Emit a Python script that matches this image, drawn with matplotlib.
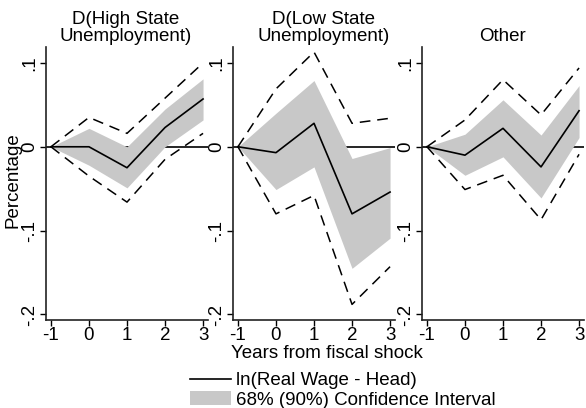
import matplotlib
matplotlib.use("Agg")
import matplotlib.pyplot as plt
from matplotlib.patches import Patch
from matplotlib.lines import Line2D

plt.rcParams['font.family'] = ['Liberation Sans', 'DejaVu Sans']

years = [-1, 0, 1, 2, 3]

titles = ["D(High State\nUnemployment)", "D(Low State\nUnemployment)", "Other"]

# point estimates
est_high = [0, 0.000, -0.025, 0.023, 0.057]
est_low = [0, -0.007, 0.028, -0.080, -0.054]
est_other = [0, -0.010, 0.022, -0.024, 0.043]

# 68% bands (shaded)
lo68_high = [0, -0.022, -0.049, 0.000, 0.032]
hi68_high = [0, 0.022, 0.000, 0.045, 0.081]
lo68_low = [0, -0.051, -0.024, -0.145, -0.109]
hi68_low = [0, 0.040, 0.079, -0.014, -0.001]
lo68_other = [0, -0.034, -0.012, -0.061, 0.011]
hi68_other = [0, 0.015, 0.056, 0.014, 0.073]

# 90% bands (dashed)
lo90_high = [0, -0.035, -0.066, -0.015, 0.016]
hi90_high = [0, 0.035, 0.016, 0.058, 0.100]
lo90_low = [0, -0.080, -0.058, -0.188, -0.143]
hi90_low = [0, 0.069, 0.113, 0.028, 0.034]
lo90_other = [0, -0.051, -0.034, -0.087, -0.009]
hi90_other = [0, 0.032, 0.080, 0.038, 0.094]

yticks = [-0.2, -0.1, 0, 0.1]
ytick_labels = ["-.2", "-.1", "0", ".1"]

panels = [
    (est_high, lo68_high, hi68_high, lo90_high, hi90_high),
    (est_low, lo68_low, hi68_low, lo90_low, hi90_low),
    (est_other, lo68_other, hi68_other, lo90_other, hi90_other),
]

W, H = 586, 408
fig = plt.figure(figsize=(W / 100, H / 100), dpi=100)

lefts = [46, 233, 422]
title_x = [0.49, 0.56, 0.5]
fs = 13.5
shade = "#c8c8c8"

for i, (est, lo68, hi68, lo90, hi90) in enumerate(panels):
    ax = fig.add_axes([lefts[i] / W, (H - 319.5) / H, 162 / W, 272.5 / H])
    ax.axhline(0, color="black", lw=1.2, zorder=1)
    ax.fill_between(years, lo68, hi68, color=shade, lw=0, zorder=2)
    ax.plot(years, lo90, color="black", lw=1.1, dashes=(7, 4.5), zorder=3)
    ax.plot(years, hi90, color="black", lw=1.1, dashes=(7, 4.5), zorder=3)
    ax.plot(years, est, color="black", lw=1.2, zorder=4)

    ax.set_xlim(-1.13, 3.13)
    ax.set_ylim(-0.206, 0.119)
    ax.set_xticks(years)
    ax.set_xticklabels([str(y) for y in years], fontsize=fs)
    ax.set_yticks(yticks)
    ax.set_yticklabels(ytick_labels, fontsize=fs, rotation=90, va="center")
    ax.tick_params(length=4, width=1, pad=1.5)
    for s in ["top", "right"]:
        ax.spines[s].set_visible(False)
    for s in ["left", "bottom"]:
        ax.spines[s].set_linewidth(1.2)
        ax.spines[s].set_color("#222222")
    ax.set_title(titles[i], fontsize=fs, x=title_x[i], pad=4, linespacing=1.0)
    if i == 0:
        ax.set_ylabel("Percentage", fontsize=fs)
        ax.yaxis.set_label_coords(-0.15, 0.51)

fig.text(327 / W, 1 - 354 / H, "Years from fiscal shock", fontsize=fs,
         ha="center", va="center")

handles = [Line2D([], [], color="black", lw=1.2), Patch(facecolor=shade, edgecolor="none")]
labels = ["ln(Real Wage - Head)", "68% (90%) Confidence Interval"]
fig.legend(handles, labels, loc="upper left", bbox_to_anchor=(190 / W, 1 - 372 / H),
           frameon=False, fontsize=fs, handlelength=2.2, handleheight=0.75,
           handletextpad=0.25, labelspacing=0.1, borderaxespad=0, borderpad=0)

fig.savefig("out.png", dpi=100)
